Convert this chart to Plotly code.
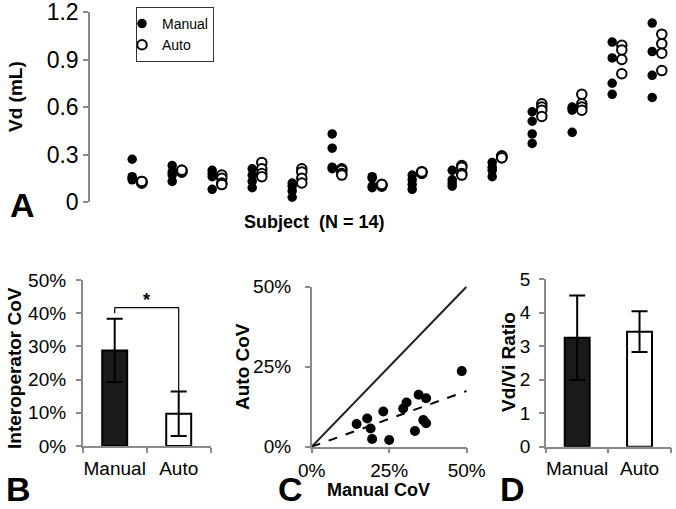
import plotly.graph_objects as go

# ---------------- data ----------------
subjects = list(range(1, 15))
manual_vd = [
    [0.27, 0.16, 0.15, 0.14],
    [0.23, 0.19, 0.17, 0.13],
    [0.20, 0.18, 0.16, 0.08],
    [0.21, 0.17, 0.13, 0.09],
    [0.12, 0.10, 0.07, 0.03],
    [0.43, 0.34, 0.22, 0.21],
    [0.16, 0.15, 0.10, 0.09],
    [0.17, 0.14, 0.11, 0.08],
    [0.20, 0.14, 0.12, 0.10],
    [0.25, 0.22, 0.20, 0.16],
    [0.57, 0.51, 0.43, 0.37],
    [0.60, 0.59, 0.58, 0.44],
    [1.01, 0.91, 0.75, 0.68],
    [1.13, 0.95, 0.80, 0.66],
]
auto_vd = [
    [0.13, 0.12, 0.12, 0.13],
    [0.19, 0.20, 0.19, 0.20],
    [0.17, 0.15, 0.12, 0.11],
    [0.25, 0.21, 0.18, 0.16],
    [0.21, 0.19, 0.15, 0.12],
    [0.21, 0.20, 0.18, 0.17],
    [0.11, 0.11, 0.10, 0.11],
    [0.19, 0.19, 0.18, 0.19],
    [0.23, 0.22, 0.18, 0.17],
    [0.29, 0.28, 0.29, 0.28],
    [0.62, 0.60, 0.58, 0.54],
    [0.68, 0.62, 0.60, 0.58],
    [0.99, 0.96, 0.90, 0.81],
    [1.06, 1.00, 0.94, 0.83],
]

methods = ["Manual", "Auto"]
cov_mean = [28.8, 9.7]
cov_err = [9.5, 6.7]

manual_cov = [14.5, 17.9, 19.0, 19.5, 23.1, 25.0, 29.5, 30.6, 33.3, 34.5, 36.0, 36.9, 36.9, 48.4]
auto_cov = [7.1, 8.8, 5.7, 2.4, 11.0, 2.1, 11.9, 13.8, 4.9, 16.2, 8.3, 15.1, 7.3, 23.6]

ratio_mean = [3.25, 3.43]
ratio_err = [1.26, 0.61]

# ---------------- figure ----------------
W, H = 676, 509
FONT = "Liberation Sans, Arial, sans-serif"
NARROW = "Liberation Sans Narrow, Arial Narrow, Liberation Sans, Arial, sans-serif"
AX = "#8a8a8a"


def px_x(p):
    return p / W


def px_y(p):
    return 1 - p / H


fig = go.Figure()

# Panel A
off = 0.12
mx, my, ax_, ay = [], [], [], []
for s, mv, av in zip(subjects, manual_vd, auto_vd):
    for v in mv:
        mx.append(s - off)
        my.append(v)
    for v in av:
        ax_.append(s + off)
        ay.append(v)

fig.add_trace(go.Scatter(x=mx, y=my, mode="markers", name="Manual",
                         marker=dict(size=9.5, color="black", line=dict(width=0)),
                         xaxis="x", yaxis="y", cliponaxis=False))
fig.add_trace(go.Scatter(x=ax_, y=ay, mode="markers", name="Auto",
                         marker=dict(size=9.5, color="white", line=dict(width=2, color="black")),
                         xaxis="x", yaxis="y", cliponaxis=False))

# Panel B
bar_fill = ["#1a1a1a", "white"]
fig.add_trace(go.Bar(x=methods, y=cov_mean, width=0.39,
                     marker=dict(color=bar_fill, line=dict(color="black", width=2)),
                     error_y=dict(type="data", array=cov_err, color="black", thickness=2, width=8),
                     xaxis="x2", yaxis="y2", showlegend=False))

# Panel C
fig.add_trace(go.Scatter(x=[0, 50], y=[0, 50], mode="lines",
                         line=dict(color="#222", width=2), xaxis="x3", yaxis="y3",
                         showlegend=False))
slope = sum(a * b for a, b in zip(manual_cov, auto_cov)) / sum(a * a for a in manual_cov)
fig.add_trace(go.Scatter(x=[0, 50], y=[0, 50 * slope], mode="lines",
                         line=dict(color="black", width=2, dash="dash"), xaxis="x3", yaxis="y3",
                         showlegend=False))
fig.add_trace(go.Scatter(x=manual_cov, y=auto_cov, mode="markers",
                         marker=dict(size=10, color="black"), xaxis="x3", yaxis="y3",
                         showlegend=False, cliponaxis=False))

# Panel D
fig.add_trace(go.Bar(x=methods, y=ratio_mean, width=0.4,
                     marker=dict(color=bar_fill, line=dict(color="black", width=2)),
                     error_y=dict(type="data", array=ratio_err, color="black", thickness=2, width=8),
                     xaxis="x4", yaxis="y4", showlegend=False))

tickfont_big = dict(family=FONT, size=23, color="black")
tickfont = dict(family=FONT, size=19, color="black")

common_y = dict(showline=True, linecolor=AX, linewidth=1.5, ticks="outside", ticklen=5,
                tickcolor=AX, tickwidth=1.5, showgrid=False, zeroline=False, automargin=False,
                ticklabeloverflow="allow")
common_x = dict(showline=True, linecolor=AX, linewidth=1.5, ticks="outside", ticklen=5,
                tickcolor=AX, tickwidth=1.5, showgrid=False, zeroline=False, tickangle=0,
                automargin=False, ticklabeloverflow="allow")

fig.update_layout(
    width=W, height=H, margin=dict(l=0, r=0, t=0, b=0, autoexpand=False),
    paper_bgcolor="white", plot_bgcolor="white",
    font=dict(family=FONT, color="black"),
    xaxis=dict(domain=[px_x(90), 1.0], range=[-0.175, 14.475], showline=False,
               showticklabels=False, ticks="", showgrid=False, zeroline=False, anchor="y",
               automargin=False),
    yaxis=dict(domain=[px_y(202), px_y(12)], range=[0, 1.2],
               tickvals=[0, 0.3, 0.6, 0.9, 1.2], ticktext=["0", "0.3", "0.6", "0.9", "1.2"],
               tickfont=tickfont_big, anchor="x", **common_y),
    xaxis2=dict(domain=[px_x(82.7), px_x(210.7)], type="category", range=[-0.5, 1.5],
                tickson="boundaries", tickfont=tickfont, anchor="y2",
                ticklabelstandoff=4, **common_x),
    yaxis2=dict(domain=[px_y(446), px_y(280)], range=[0, 50], dtick=10, ticksuffix="%",
                tickfont=tickfont, anchor="x2", ticklabelstandoff=6, **common_y),
    xaxis3=dict(domain=[px_x(311.7), px_x(466.7)], range=[0, 50], dtick=25, ticksuffix="%",
                tickfont=tickfont, anchor="y3", ticklabelstandoff=1, **common_x),
    yaxis3=dict(domain=[px_y(446.7), px_y(286.5)], range=[0, 50], dtick=25, ticksuffix="%",
                tickfont=tickfont, anchor="x3", ticklabelstandoff=10, **common_y),
    xaxis4=dict(domain=[px_x(546), px_x(670.7)], type="category", range=[-0.5, 1.5],
                tickson="boundaries", tickfont=tickfont, anchor="y4",
                ticklabelstandoff=4, **common_x),
    yaxis4=dict(domain=[px_y(446.7), px_y(279)], range=[0, 5], dtick=1,
                tickfont=tickfont, anchor="x4", ticklabelstandoff=5, **common_y),
    legend=dict(x=px_x(136), y=px_y(7), xanchor="left", yanchor="top",
                bordercolor="#333", borderwidth=1, bgcolor="white",
                font=dict(family=FONT, size=14, color="black"),
                itemwidth=30, tracegroupgap=0, indentation=-15),
)

# significance bracket (panel B)
bracket_y = 41.7
left_drop = 40.0
auto_top = cov_mean[1] + cov_err[1]
fig.add_shape(type="line", xref="x2", yref="y2", x0=0, x1=0, y0=left_drop, y1=bracket_y,
              line=dict(color="black", width=1.2))
fig.add_shape(type="line", xref="x2", yref="y2", x0=0, x1=1, y0=bracket_y, y1=bracket_y,
              line=dict(color="black", width=1.2))
fig.add_shape(type="line", xref="x2", yref="y2", x0=1, x1=1, y0=bracket_y, y1=auto_top,
              line=dict(color="black", width=1.2))
fig.add_annotation(x=0.5, y=bracket_y, xref="x2", yref="y2", text="<b>*</b>", showarrow=False,
                   yanchor="bottom", yshift=-4, font=dict(family=FONT, size=18, color="black"))


def ann(text, x, y, size, angle=0, family=FONT):
    fig.add_annotation(x=px_x(x), y=px_y(y), xref="paper", yref="paper", text=text,
                       showarrow=False, textangle=angle, xanchor="center", yanchor="middle",
                       font=dict(family=family, size=size, color="black"))


ann("<b>Vd (mL)</b>", 15, 97, 19, -90)
ann("<b>Subject  (N = 14)</b>", 314, 222, 18, 0, NARROW)
ann("<b>Interoperator CoV</b>", 14, 368, 19, -90)
ann("<b>Auto CoV</b>", 242, 367, 19, -90)
ann("<b>Manual CoV</b>", 378, 490, 18, 0, NARROW)
ann("<b>Vd/Vi Ratio</b>", 508, 362, 19, -90)

ann("<b>A</b>", 22, 205, 34)
ann("<b>B</b>", 18, 489, 34)
ann("<b>C</b>", 290, 489, 34)
ann("<b>D</b>", 512, 489, 34)

# remove the page's default 8px body margin so the figure sits at the window's corner
fig.write_html("out.html", config={"displayModeBar": False},
               post_script="document.body.style.margin='0';document.body.style.overflow='hidden';")
